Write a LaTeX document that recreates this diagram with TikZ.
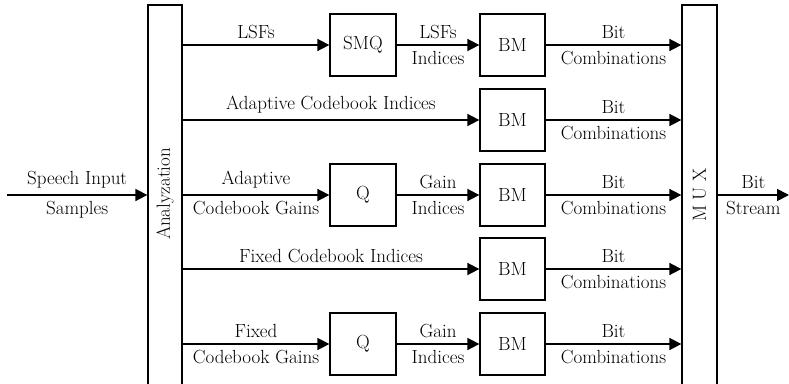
\documentclass[tikz,border=0pt]{standalone}
\usetikzlibrary{arrows.meta}
\begin{document}
\begin{tikzpicture}[x=1pt,y=-1pt,
  every node/.style={font=\fontsize{19}{22}\selectfont},
  blk/.style={draw, line width=1.3pt, minimum width=66pt, minimum height=62pt, inner sep=0pt},
  tall/.style={draw, line width=1.3pt, minimum width=34pt, minimum height=380pt, inner sep=0pt},
  arr/.style={line width=1.7pt, -{Triangle[length=12pt,width=12pt]}},
  up/.style={above, inner sep=5.5pt},
  dn/.style={below, inner sep=5.5pt}]
\useasboundingbox (0,0) rectangle (789,383);
\clip (0,0) rectangle (789,383);

% analysis stage and multiplexer (open at the bottom)
\node[tall] (ana) at (165,195) {};
\node[rotate=90] (anatxt) at (165,194) {Analyzation};
\node[tall, minimum width=35pt] (mux) at (699.5,195) {};
\node[rotate=90] (muxtxt) at (699.5,195) {M U X};

% quantisers and bit mappers
\node[blk] (smq) at (363,45) {SMQ};
\node[blk, minimum width=65pt] (bm1) at (512.5,45) {BM};
\node[blk, minimum width=65pt] (bm2) at (512.5,120) {BM};
\node[blk] (q1) at (363,195) {Q};
\node[blk, minimum width=65pt] (bm3) at (512.5,195) {BM};
\node[blk, minimum width=65pt] (bm4) at (512.5,269) {BM};
\node[blk] (q2) at (363,344) {Q};
\node[blk, minimum width=65pt] (bm5) at (512.5,344) {BM};

\coordinate (in) at (7,195);
\coordinate (out) at (789,195);

% input
\draw[arr] (in) -- (ana.west |- in)
  node[midway, up] (l0a) {Speech Input}
  node[midway, dn] (l0b) {Samples};

% row 1
\draw[arr] (ana.east |- smq.west) -- (smq.west) node[midway, up] (l1a) {LSFs};
\draw[arr] (smq.east) -- (bm1.west)
  node[midway, up] (l1b) {LSFs} node[midway, dn] (l1c) {Indices};
\draw[arr] (bm1.east) -- (mux.west |- bm1.east)
  node[midway, up] (l1d) {Bit} node[midway, dn] (l1e) {Combinations};

% row 2
\draw[arr] (ana.east |- bm2.west) -- (bm2.west) node[midway, up] (l2a) {Adaptive Codebook Indices};
\draw[arr] (bm2.east) -- (mux.west |- bm2.east)
  node[midway, up] (l2d) {Bit} node[midway, dn] (l2e) {Combinations};

% row 3
\draw[arr] (ana.east |- q1.west) -- (q1.west)
  node[midway, up] (l3a) {Adaptive} node[midway, dn] (l3b) {Codebook Gains};
\draw[arr] (q1.east) -- (bm3.west)
  node[midway, up] (l3c) {Gain} node[midway, dn] (l3d) {Indices};
\draw[arr] (bm3.east) -- (mux.west |- bm3.east)
  node[midway, up] (l3e) {Bit} node[midway, dn] (l3f) {Combinations};

% row 4
\draw[arr] (ana.east |- bm4.west) -- (bm4.west) node[midway, up] (l4a) {Fixed Codebook Indices};
\draw[arr] (bm4.east) -- (mux.west |- bm4.east)
  node[midway, up] (l4d) {Bit} node[midway, dn] (l4e) {Combinations};

% row 5
\draw[arr] (ana.east |- q2.west) -- (q2.west)
  node[midway, up] (l5a) {Fixed} node[midway, dn] (l5b) {Codebook Gains};
\draw[arr] (q2.east) -- (bm5.west)
  node[midway, up] (l5c) {Gain} node[midway, dn] (l5d) {Indices};
\draw[arr] (bm5.east) -- (mux.west |- bm5.east)
  node[midway, up] (l5e) {Bit} node[midway, dn] (l5f) {Combinations};

% output
\draw[arr] (mux.east |- out) -- (out)
  node[midway, up] (l6a) {Bit} node[midway, dn] (l6b) {Stream};
\end{tikzpicture}
\end{document}
